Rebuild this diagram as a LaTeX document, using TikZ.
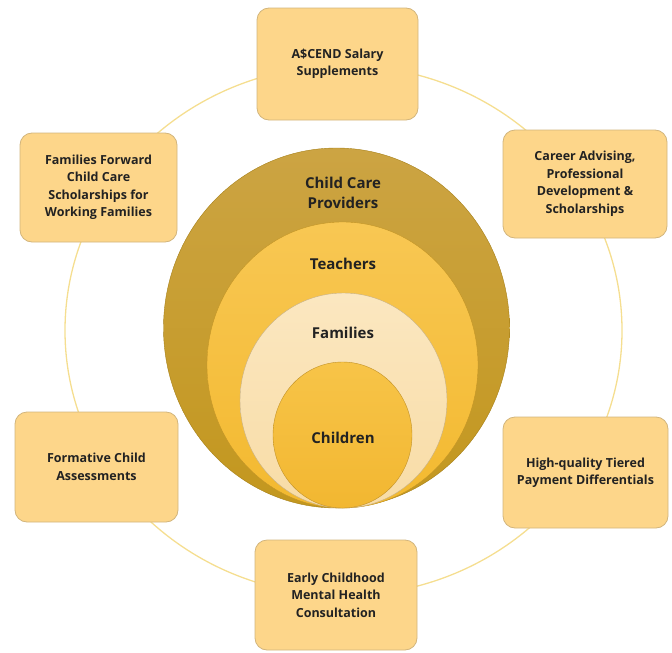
\documentclass[tikz,border=0pt]{standalone}
\usepackage{fontspec}
\setmainfont{Open Sans}
\definecolor{ringc}{HTML}{F5DE90}
\definecolor{boxfill}{HTML}{FDD68A}
\definecolor{boxline}{HTML}{D2B57C}
\definecolor{textc}{HTML}{222222}
\definecolor{outerA}{HTML}{CCA443}
\definecolor{outerB}{HTML}{C3971E}
\definecolor{teachA}{HTML}{F8C753}
\definecolor{teachB}{HTML}{F3B92F}
\definecolor{famA}{HTML}{FBE7C0}
\definecolor{famB}{HTML}{F8DCA6}
\definecolor{chiA}{HTML}{F7C448}
\definecolor{chiB}{HTML}{F2B731}
\begin{document}
\begin{tikzpicture}[x=1pt,y=-1pt,
  box/.style={draw=boxline, line width=0.8pt, fill=boxfill, rounded corners=12pt,
    align=center, text=textc, inner sep=4pt,
    font=\fontsize{12.5}{17.5}\selectfont\bfseries},
  circlabel/.style={align=center, text=textc, font=\fontsize{15}{20}\selectfont\bfseries}]
\useasboundingbox (0,0) rectangle (672,653);
% ring
\draw[ringc, line width=1.3pt] (343.5,330.5) ellipse [x radius=278.5pt, y radius=265pt];
% nested circles
\path[draw=outerB!85!black, line width=0.4pt, top color=outerA, bottom color=outerB]
  (336.5,328) ellipse [x radius=173pt, y radius=180pt];
\path[draw=teachB!80!black, line width=0.4pt, top color=teachA, bottom color=teachB]
  (342.5,365) ellipse [x radius=135.5pt, y radius=143pt];
\path[draw=famB!80!black, line width=0.4pt, top color=famA, bottom color=famB]
  (343.5,400.5) ellipse [x radius=103.5pt, y radius=107.5pt];
\path[draw=chiB!80!black, line width=0.4pt, top color=chiA, bottom color=chiB]
  (342.5,435) ellipse [x radius=69.5pt, y radius=73pt];
% circle labels
\node[circlabel] (ccp) at (343,193) {Child Care\\Providers};
\node[circlabel] (tea) at (343,264) {Teachers};
\node[circlabel] (fam) at (343,333) {Families};
\node[circlabel] (chi) at (343,438) {Children};
% boxes
\node[box, minimum width=161pt, minimum height=112pt] (ascend) at (337.5,64) {A\$CEND Salary\\Supplements};
\node[box, minimum width=157pt, minimum height=109pt] (ff) at (98.5,187.5) {Families Forward\\Child Care\\Scholarships for\\Working Families};
\node[box, minimum width=164pt, minimum height=108pt] (career) at (585,184) {Career Advising,\\Professional\\Development \&\\Scholarships};
\node[box, minimum width=163pt, minimum height=110pt] (fca) at (96.5,467) {Formative Child\\Assessments};
\node[box, minimum width=165pt, minimum height=111pt] (hq) at (585.5,472.5) {High-quality Tiered\\Payment Differentials};
\node[box, minimum width=162pt, minimum height=110pt] (ecmh) at (336,595) {Early Childhood\\Mental Health\\Consultation};
\end{tikzpicture}
\end{document}
